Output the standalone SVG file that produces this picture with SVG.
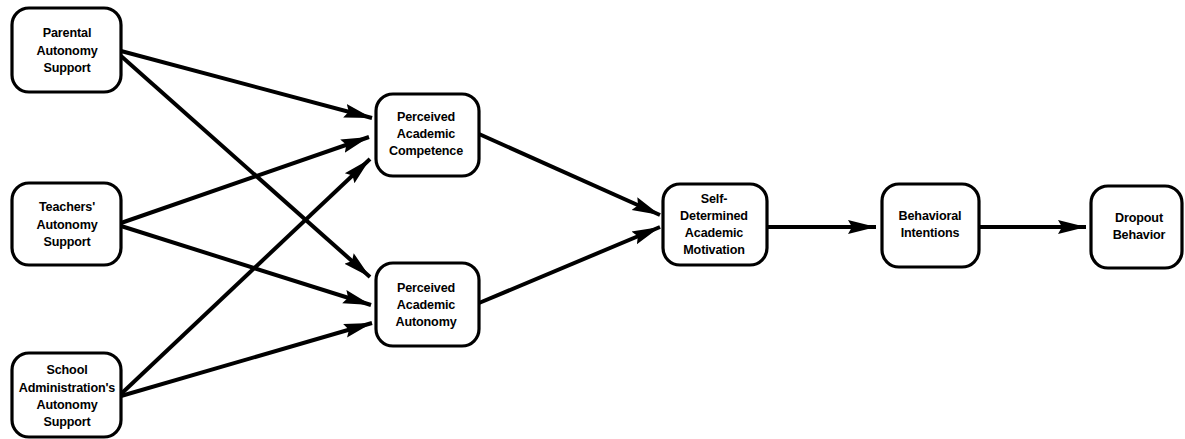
<svg xmlns="http://www.w3.org/2000/svg" width="1185" height="439" viewBox="0 0 1185 439">
<style>
.box{fill:#fff;stroke:#000;stroke-width:3.2}
.lbl{font-family:"Liberation Sans",Arial,sans-serif;font-weight:bold;font-size:12.6px;fill:#000;text-anchor:middle;letter-spacing:-0.15px}
.edge{stroke:#000;stroke-width:4;fill:none;marker-end:url(#ah)}
</style>
<defs>
<marker id="ah" markerUnits="userSpaceOnUse" markerWidth="30" markerHeight="16" refX="28" refY="8" orient="auto">
<path d="M0,1 L28,8 L0,15 L4,8 z" fill="#000"/>
</marker>
</defs>
<rect width="1185" height="439" fill="#fff"/>
<g id="connectors">
<line class="edge" x1="121" y1="51" x2="372" y2="118"/>
<line class="edge" x1="121" y1="56" x2="370" y2="277"/>
<line class="edge" x1="121" y1="223" x2="369" y2="137"/>
<line class="edge" x1="121" y1="226" x2="371" y2="305"/>
<line class="edge" x1="121" y1="394" x2="370" y2="159"/>
<line class="edge" x1="121" y1="396" x2="372" y2="323"/>
<line class="edge" x1="479" y1="134" x2="660" y2="215"/>
<line class="edge" x1="479" y1="303" x2="660" y2="227"/>
<line class="edge" x1="767" y1="227" x2="876" y2="227"/>
<line class="edge" x1="979" y1="227" x2="1086" y2="227"/>
</g>
<g id="parental">
<rect class="box" x="12" y="8" width="109" height="84" rx="17"/>
<text class="lbl" x="67" y="37">Parental</text>
<text class="lbl" x="67" y="55">Autonomy</text>
<text class="lbl" x="67" y="72">Support</text>
</g>
<g id="teachers">
<rect class="box" x="12" y="183" width="109" height="82" rx="17"/>
<text class="lbl" x="67" y="211">Teachers'</text>
<text class="lbl" x="67" y="229">Autonomy</text>
<text class="lbl" x="67" y="246">Support</text>
</g>
<g id="school">
<rect class="box" x="12" y="353" width="109" height="84" rx="17"/>
<text class="lbl" x="67" y="374">School</text>
<text class="lbl" x="67" y="392">Administration's</text>
<text class="lbl" x="67" y="409">Autonomy</text>
<text class="lbl" x="67" y="426">Support</text>
</g>
<g id="competence">
<rect class="box" x="376" y="94" width="103" height="82" rx="17"/>
<text class="lbl" x="426" y="121">Perceived</text>
<text class="lbl" x="426" y="138">Academic</text>
<text class="lbl" x="426" y="155">Competence</text>
</g>
<g id="autonomy">
<rect class="box" x="376" y="263" width="103" height="83" rx="17"/>
<text class="lbl" x="426" y="292">Perceived</text>
<text class="lbl" x="426" y="309">Academic</text>
<text class="lbl" x="426" y="326">Autonomy</text>
</g>
<g id="selfdetermined">
<rect class="box" x="663" y="184" width="104" height="81" rx="17"/>
<text class="lbl" x="714" y="203">Self-</text>
<text class="lbl" x="714" y="220">Determined</text>
<text class="lbl" x="714" y="237">Academic</text>
<text class="lbl" x="714" y="254">Motivation</text>
</g>
<g id="behavioral">
<rect class="box" x="882" y="184" width="97" height="83" rx="17"/>
<text class="lbl" x="930" y="220">Behavioral</text>
<text class="lbl" x="930" y="237">Intentions</text>
</g>
<g id="dropout">
<rect class="box" x="1091" y="186" width="91" height="82" rx="17"/>
<text class="lbl" x="1139" y="222">Dropout</text>
<text class="lbl" x="1139" y="239">Behavior</text>
</g>
</svg>
